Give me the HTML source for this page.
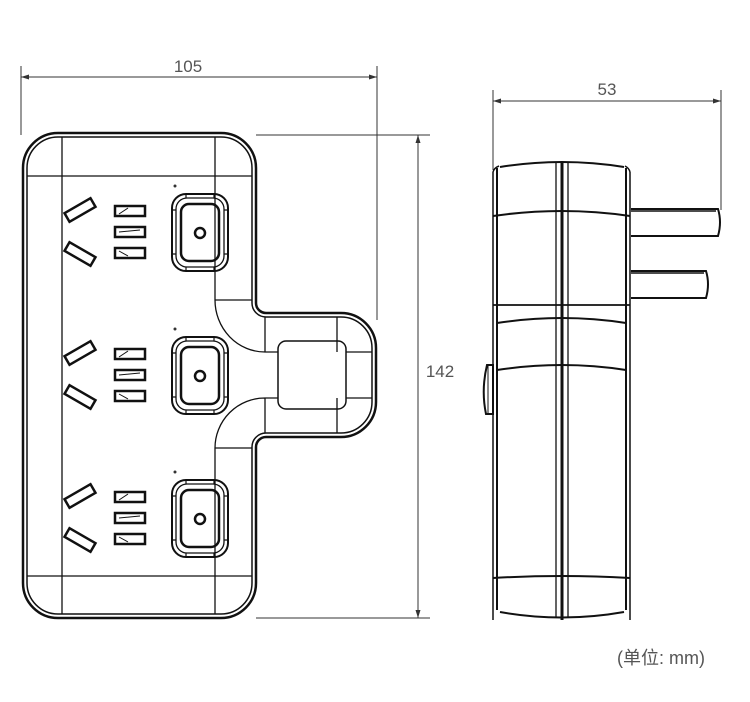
<!DOCTYPE html>
<html><head><meta charset="utf-8"><style>
html,body{margin:0;padding:0;background:#fff;width:750px;height:702px;overflow:hidden}
svg{display:block}
text{font-family:"Liberation Sans","Noto Sans CJK SC",sans-serif;fill:#555}
</style></head><body>
<svg width="750" height="702" viewBox="0 0 750 702" xmlns="http://www.w3.org/2000/svg">
<defs>
<g id="row" fill="none" stroke="#111">
  <rect x="-15" y="-5" width="30" height="10" transform="translate(80,-22) rotate(-30)" stroke-width="2.5"/>
  <rect x="-15" y="-5" width="30" height="10" transform="translate(80,22) rotate(30)" stroke-width="2.5"/>
  <rect x="115" y="-26" width="30" height="10" stroke-width="2.5"/>
  <rect x="115" y="-5" width="30" height="10" stroke-width="2.5"/>
  <rect x="115" y="16" width="30" height="10" stroke-width="2.5"/>
  <path d="M119 -18 L128 -24 M119 19 L128 24 M119 0 L140 -2" stroke-width="1"/>
  <rect x="172" y="-38" width="56" height="77" rx="14" stroke-width="2"/>
  <rect x="176" y="-34" width="48" height="69" rx="11" stroke-width="1.3"/>
  <rect x="181" y="-28" width="38" height="57" rx="8" stroke-width="2.5"/>
  <path d="M186 -38 V-34 M214 -38 V-34 M186 39 V35 M214 39 V35 M172 -22 H176 M172 22 H176 M228 -22 H224 M228 22 H224" stroke-width="1.2"/>
  <circle cx="200" cy="1" r="5" stroke-width="2.5"/>
  <circle cx="175" cy="-46" r="1.5" fill="#333" stroke="none"/>
</g>
</defs>

<g stroke="#333" stroke-width="1" fill="none">
  <path d="M21 66 V135 M377 66 V320 M21 77 H377"/>
  <path d="M256 135 H430 M256 618 H430 M418 135 V618"/>
  <path d="M493 90 V170 M721 90 V210 M493 101 H721"/>
</g>
<g fill="#333">
  <path d="M21 77 l8 -2.5 v5z M377 77 l-8 -2.5 v5z"/>
  <path d="M418 135 l-2.5 8 h5z M418 618 l-2.5 -8 h5z"/>
  <path d="M493 101 l8 -2.5 v5z M721 101 l-8 -2.5 v5z"/>
</g>
<text x="188" y="72" font-size="17" text-anchor="middle">105</text>
<text x="440" y="377" font-size="17" text-anchor="middle">142</text>
<text x="607" y="95" font-size="17" text-anchor="middle">53</text>
<text x="661" y="664" font-size="18" text-anchor="middle">(单位: mm)</text>

<g fill="none" stroke="#111">
  <path d="M58 133 H221 A35 35 0 0 1 256 168 V303 A10 10 0 0 0 266 313 H341 A35 35 0 0 1 376 348 V402 A35 35 0 0 1 341 437 H266 A10 10 0 0 0 256 447 V583 A35 35 0 0 1 221 618 H58 A35 35 0 0 1 23 583 V168 A35 35 0 0 1 58 133 Z" stroke-width="2.5"/>
  <path d="M58 137 H221 A31 31 0 0 1 252 168 V303 A14 14 0 0 0 266 317 H341 A31 31 0 0 1 372 348 V402 A31 31 0 0 1 341 433 H266 A14 14 0 0 0 252 447 V583 A31 31 0 0 1 221 614 H58 A31 31 0 0 1 27 583 V168 A31 31 0 0 1 58 137 Z" stroke-width="1.5"/>
  <path d="M27 176 H252 M27 576 H252 M62 137 V614 M215 137 V300 M215 448 V614" stroke-width="1.3"/>
  <path d="M215 300 H252 M215 300 A50 52 0 0 0 265 352 M215 448 H252 M215 448 A50 50 0 0 1 265 398 M265 317 V352 M265 398 V433 M337 317 V352 M337 398 V433 M265 352 H278 M265 398 H278 M346 352 H372 M346 398 H372" stroke-width="1.3"/>
  <rect x="278" y="341" width="68" height="68" rx="8" stroke-width="1.5"/>
</g>
<use href="#row" transform="translate(0,232)"/>
<use href="#row" transform="translate(0,375)"/>
<use href="#row" transform="translate(0,518)"/>

<g fill="none" stroke="#111">
  <path d="M493 172 Q494 168 499 166 M630 172 Q629 168 625 166" stroke-width="1.5"/>
  <path d="M493 172 V620 M630 172 V620" stroke-width="1.5"/>
  <path d="M497 168 V610 M626 168 V610" stroke-width="2"/>
  <path d="M500 167 Q562 157 624 167" stroke-width="2"/>
  <path d="M500 612 Q562 623 624 612" stroke-width="2"/>
  <path d="M493 216 Q562 206 630 216" stroke-width="2"/>
  <path d="M493 305 H630" stroke-width="1.8"/>
  <path d="M497 323 Q562 313 626 323" stroke-width="2"/>
  <path d="M497 370 Q562 360 626 370" stroke-width="2"/>
  <path d="M493 578 Q562 574 630 578" stroke-width="2"/>
  <path d="M556 163 V618 M568 163 V618" stroke-width="1.3"/>
  <path d="M562 162 V620" stroke-width="3"/>
  <path d="M631 209 H718 Q722 222 718 236 H631" stroke-width="2"/>
  <path d="M631 211 H716" stroke-width="1.5"/>
  <path d="M631 271 H706 Q710 284 706 298 H631" stroke-width="2"/>
  <path d="M631 273 H704" stroke-width="1.5"/>
  <path d="M487 365 Q481 390 486 414 H493 V365 Z" stroke-width="2"/>
  <path d="M488 366 V413" stroke-width="1"/>
</g>
</svg>
</body></html>
